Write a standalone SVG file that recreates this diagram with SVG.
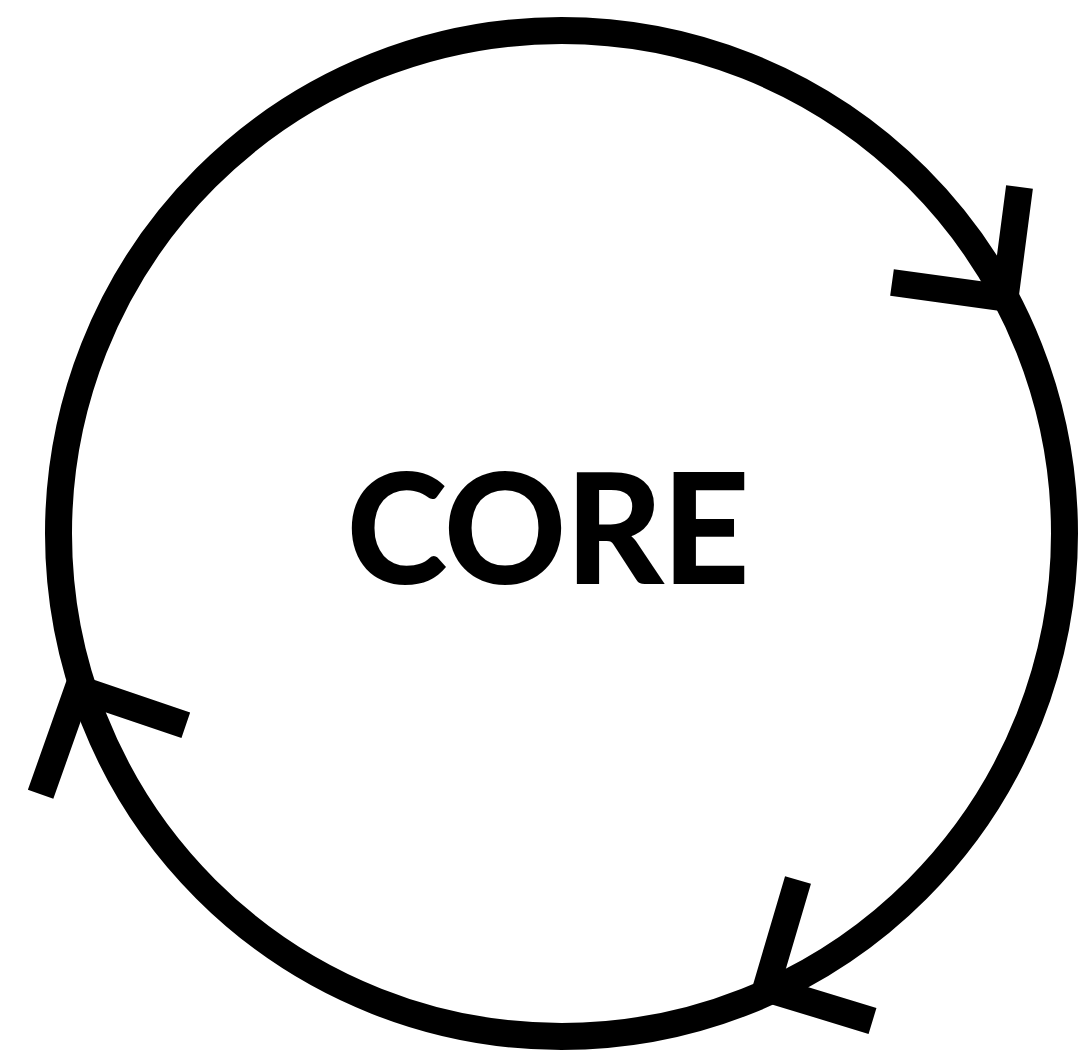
<svg xmlns="http://www.w3.org/2000/svg" width="1083" height="1058" viewBox="0 0 1083 1058">
<style>
.ln{fill:none;stroke:#000;stroke-width:27;stroke-linejoin:miter;stroke-linecap:butt;stroke-miterlimit:10}
.lbl{font-family:Lato,"Liberation Sans",sans-serif;font-weight:700;font-size:152px;fill:#000;stroke:#000;stroke-width:2}
</style>
<rect width="1083" height="1058" fill="#fff"/>
<g id="connectors">
<circle class="ln" cx="561.5" cy="533.5" r="503"/>
<polyline class="ln" points="1019.5,187 1005,298 892,282.5"/>
<polyline class="ln" points="40.6,794.3 78,688.6 185.8,725.3"/>
<polyline class="ln" points="798,880 766,988.5 872.5,1021"/>
</g>
<g id="core">
<text class="lbl" x="347" y="583" textLength="402" lengthAdjust="spacingAndGlyphs">CORE</text>
</g>
</svg>
